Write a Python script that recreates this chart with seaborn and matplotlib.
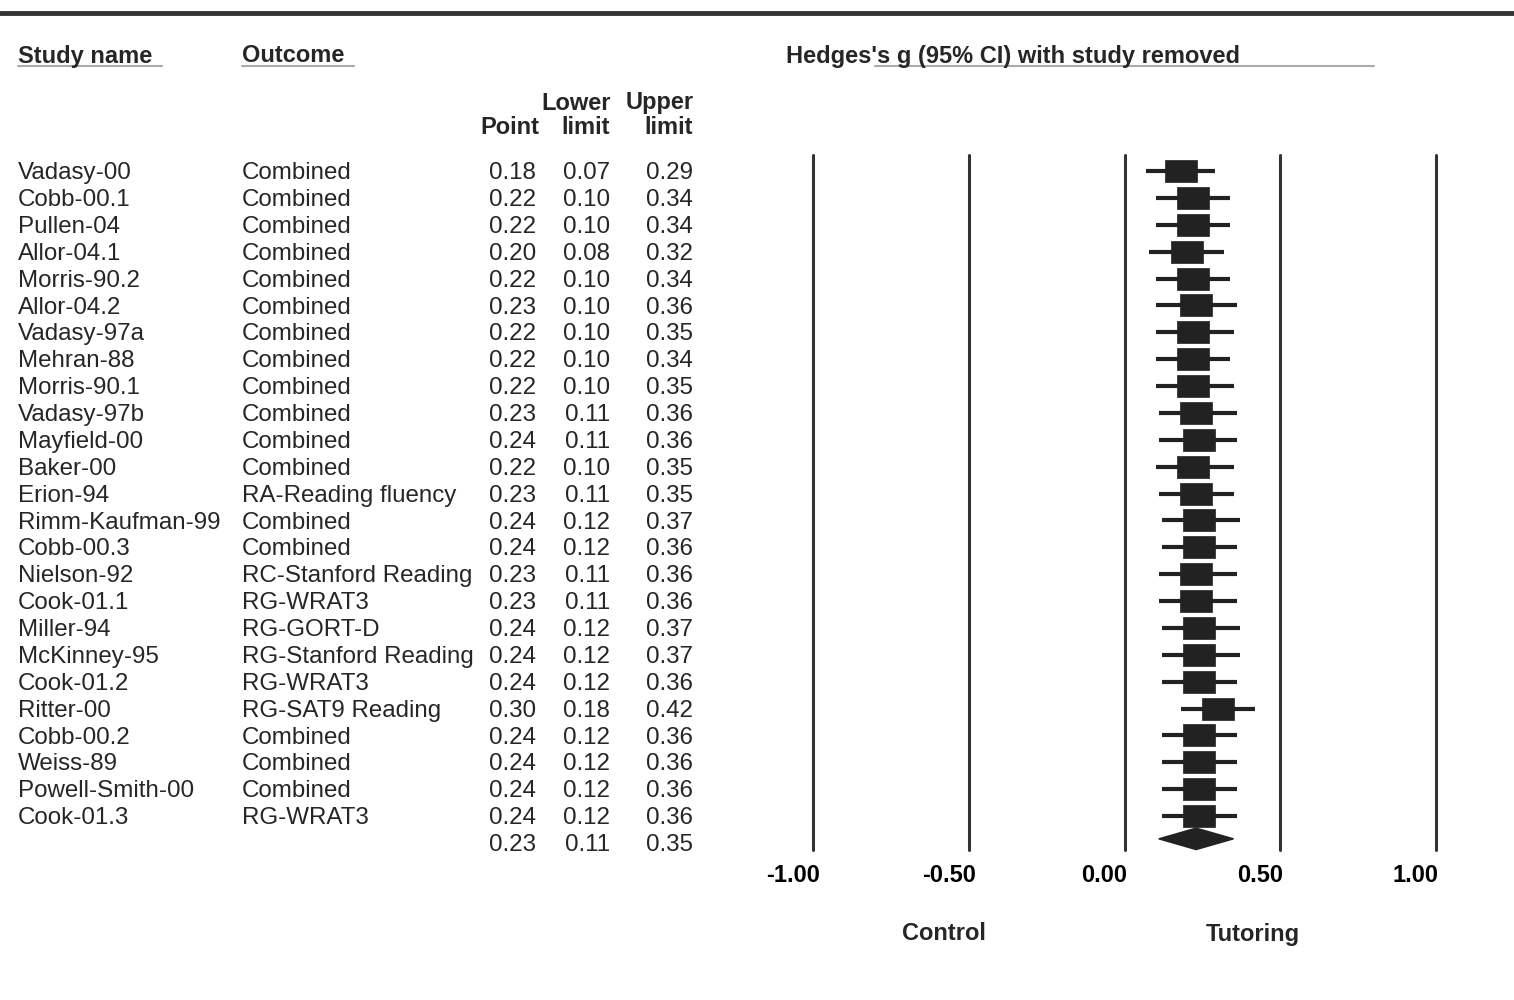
import matplotlib
matplotlib.use("Agg")
import matplotlib.pyplot as plt
import matplotlib.transforms as mtransforms
from matplotlib.lines import Line2D
from matplotlib.markers import MarkerStyle
import pandas as pd
import seaborn as sns

studies = ["Vadasy-00", "Cobb-00.1", "Pullen-04", "Allor-04.1", "Morris-90.2", "Allor-04.2",
           "Vadasy-97a", "Mehran-88", "Morris-90.1", "Vadasy-97b", "Mayfield-00", "Baker-00",
           "Erion-94", "Rimm-Kaufman-99", "Cobb-00.3", "Nielson-92", "Cook-01.1", "Miller-94",
           "McKinney-95", "Cook-01.2", "Ritter-00", "Cobb-00.2", "Weiss-89", "Powell-Smith-00",
           "Cook-01.3"]
outcomes = ["Combined"] * 12 + ["RA-Reading fluency", "Combined", "Combined", "RC-Stanford Reading",
                                "RG-WRAT3", "RG-GORT-D", "RG-Stanford Reading", "RG-WRAT3",
                                "RG-SAT9 Reading", "Combined", "Combined", "Combined", "RG-WRAT3"]
point = [0.18, 0.22, 0.22, 0.20, 0.22, 0.23, 0.22, 0.22, 0.22, 0.23, 0.24, 0.22, 0.23,
         0.24, 0.24, 0.23, 0.23, 0.24, 0.24, 0.24, 0.30, 0.24, 0.24, 0.24, 0.24]
lower = [0.07, 0.10, 0.10, 0.08, 0.10, 0.10, 0.10, 0.10, 0.10, 0.11, 0.11, 0.10, 0.11,
         0.12, 0.12, 0.11, 0.11, 0.12, 0.12, 0.12, 0.18, 0.12, 0.12, 0.12, 0.12]
upper = [0.29, 0.34, 0.34, 0.32, 0.34, 0.36, 0.35, 0.34, 0.35, 0.36, 0.36, 0.35, 0.35,
         0.37, 0.36, 0.36, 0.36, 0.37, 0.37, 0.36, 0.42, 0.36, 0.36, 0.36, 0.36]
summary = (0.23, 0.11, 0.35)
xticks = [-1.0, -0.5, 0.0, 0.5, 1.0]

W, H = 1514, 1000
INK = "#222222"


def px(x):
    return x / W


def py(y):
    return 1 - y / H


df = pd.DataFrame({"study": studies, "outcome": outcomes, "point": point,
                   "lower": lower, "upper": upper})
df["row"] = range(len(df))
sum_row = len(df)

sns.set_theme(style="white")
plt.rcParams["font.family"] = ["Liberation Sans", "DejaVu Sans"]

fig = plt.figure(figsize=(W / 100, H / 100), dpi=100)
fig.patch.set_facecolor("white")

# forest panel: x=-1 at 813px, x=1 at 1436px; rows 171px + 26.875px each
top_px, bot_px = 155, 850
row0, step = 171, 26.875
ax = fig.add_axes([px(813), py(bot_px), px(1436 - 813), (bot_px - top_px) / H])
ax.set_xlim(-1, 1)
ax.set_ylim((bot_px - row0) / step, (top_px - row0) / step)
sns.despine(ax=ax, left=True, bottom=True)
ax.set_facecolor("none")
ax.set_yticks([])

for t in xticks:
    ax.axvline(t, color="#333333", lw=2.2, zorder=1, clip_on=False)

ax.hlines(df["row"], df["lower"], df["upper"], color=INK, lw=3, zorder=2)
box = MarkerStyle([(-0.72, -0.5), (0.72, -0.5), (0.72, 0.5), (-0.72, 0.5), (-0.72, -0.5)])
sns.scatterplot(data=df, x="point", y="row", marker=box, s=500, color=INK,
                edgecolor=INK, linewidth=0.5, ax=ax, zorder=3, legend=False)

pt, lo, hi = summary
ax.fill([lo, pt, hi, pt], [sum_row - 0.15, sum_row - 0.55, sum_row - 0.15, sum_row + 0.25],
        color=INK, zorder=3, clip_on=False)

ax.set_xticks(xticks)
ax.set_xticklabels([f"{t:.2f}" for t in xticks], fontsize=17, fontweight="bold", color="black")
ax.tick_params(axis="x", length=0, pad=10)
shift = mtransforms.ScaledTranslation(-20 / 100, 0, fig.dpi_scale_trans)
for lbl in ax.get_xticklabels():
    lbl.set_transform(lbl.get_transform() + shift)
ax.set_xlabel("")
ax.set_ylabel("")

# table columns
tr = mtransforms.blended_transform_factory(fig.transFigure, ax.transData)
fs = 17.4
dy = 0.08
for r in df.itertuples():
    y = r.row + dy
    ax.text(px(18), y, r.study, transform=tr, fontsize=fs, va="center", ha="left", clip_on=False)
    ax.text(px(242), y, r.outcome, transform=tr, fontsize=fs, va="center", ha="left", clip_on=False)
    ax.text(px(536), y, f"{r.point:.2f}", transform=tr, fontsize=fs, va="center", ha="right", clip_on=False)
    ax.text(px(610), y, f"{r.lower:.2f}", transform=tr, fontsize=fs, va="center", ha="right", clip_on=False)
    ax.text(px(693), y, f"{r.upper:.2f}", transform=tr, fontsize=fs, va="center", ha="right", clip_on=False)
for x, v in zip([536, 610, 693], summary):
    ax.text(px(x), sum_row + dy, f"{v:.2f}", transform=tr, fontsize=fs, va="center", ha="right", clip_on=False)

# headers
hdr = dict(fontsize=17, fontweight="bold", va="center")
fig.text(px(18), py(56), "Study name", ha="left", **hdr)
fig.text(px(242), py(56), "Outcome", ha="left", **hdr)
fig.text(px(786), py(56), "Hedges's g (95% CI) with study removed", ha="left", **hdr)
fig.text(px(611), py(103), "Lower", ha="right", **hdr)
fig.text(px(694), py(103), "Upper", ha="right", **hdr)
fig.text(px(539), py(127), "Point", ha="right", **hdr)
fig.text(px(610), py(127), "limit", ha="right", **hdr)
fig.text(px(693), py(127), "limit", ha="right", **hdr)
fig.text(px(944), py(934), "Control", ha="center", **hdr)
fig.text(px(1253), py(934), "Tutoring", ha="center", **hdr)

# rules
fig.add_artist(Line2D([0, 1], [py(13), py(13)], color="#333333", lw=3.5))
for x0, x1 in [(18, 162), (242, 354), (875, 1374)]:
    fig.add_artist(Line2D([px(x0), px(x1)], [py(66), py(66)], color="#aaaaaa", lw=1.5))

fig.savefig("out.png", dpi=100, facecolor="white")
